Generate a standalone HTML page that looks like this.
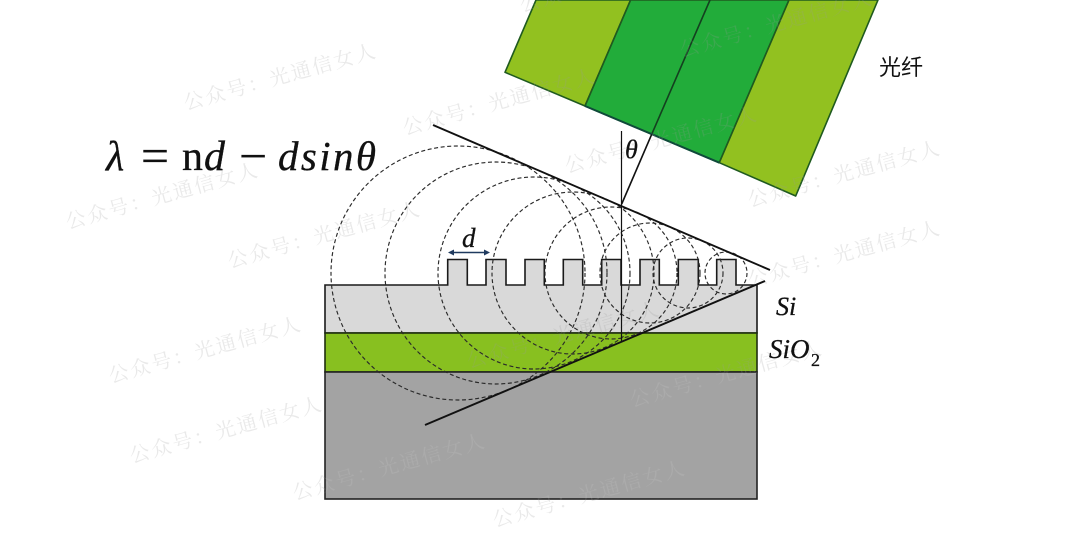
<!DOCTYPE html>
<html>
<head>
<meta charset="utf-8">
<style>
html,body{margin:0;padding:0;background:#fff;width:1080px;height:541px;overflow:hidden}
svg{display:block;filter:blur(.35px)}
.m{font-family:"Liberation Serif",serif;font-style:italic;fill:#111;stroke:#111;stroke-width:.3}
.r{font-family:"Liberation Serif",serif;fill:#111;stroke:#111;stroke-width:.3}
.wm{font-family:"Liberation Serif","Noto Serif CJK SC",serif;font-size:20px;letter-spacing:2.2px}
</style>
</head>
<body>
<svg width="1080" height="541" viewBox="0 0 1080 541" xmlns="http://www.w3.org/2000/svg">
  <defs>
    <clipPath id="gc"><rect x="326" y="373" width="430" height="125"/></clipPath>
  </defs>
  <rect width="1080" height="541" fill="#fff"/>

  <!-- fiber -->
  <g stroke="#1f5a1f" stroke-width="1.6" stroke-linejoin="round">
    <polygon points="536,0 630.6,0 585,106 505,72.3" fill="#92c120"/>
    <polygon points="630.6,0 789,0 719.3,162.7 585,106" fill="#22ac3a"/>
    <polygon points="789,0 878,0 795.7,196 719.3,162.7" fill="#92c120"/>
  </g>
  <line x1="710" y1="0" x2="651.7" y2="134.3" stroke="#14401f" stroke-width="1.6"/>
  <line x1="585" y1="106" x2="719.3" y2="162.7" stroke="#0f4a3a" stroke-width="2"/>

  <!-- substrate -->
  <path d="M325 285H447.7V259.5H467.3V285H486V259.5H506V285H525V259.5H544.3V285H563.3V259.5H582.7V285H601.7V259.5H621V285H640V259.5H659.3V285H678.3V259.5H698.3V285H716.7V259.5H736V285H757V333H325Z" fill="#d9d9d9" stroke="#1a1a1a" stroke-width="1.6"/>
  <rect x="325" y="333" width="432" height="39" fill="#88c020" stroke="#1f2f10" stroke-width="1.6"/>
  <rect x="325" y="372" width="432" height="127" fill="#a3a3a3" stroke="#222" stroke-width="1.6"/>

  <!-- watermarks -->
  <g class="wm" fill="#9a9a9a" fill-opacity=".22">
    <text transform="translate(186,110) rotate(-15.5)">公众号：光通信女人</text>
    <text transform="translate(405,135) rotate(-15.5)">公众号：光通信女人</text>
    <text transform="translate(567,173) rotate(-15.5)">公众号：光通信女人</text>
    <text transform="translate(750,207) rotate(-15.5)">公众号：光通信女人</text>
    <text transform="translate(68,229) rotate(-15.5)">公众号：光通信女人</text>
    <text transform="translate(230,268) rotate(-15.5)">公众号：光通信女人</text>
    <text transform="translate(750,287) rotate(-15.5)">公众号：光通信女人</text>
    <text transform="translate(111,383) rotate(-15.5)">公众号：光通信女人</text>
    <text transform="translate(469,368) rotate(-15.5)">公众号：光通信女人</text>
    <text id="w1" transform="translate(632,407) rotate(-15.5)">公众号：光通信女人</text>
    <text id="w2" transform="translate(132,463) rotate(-15.5)">公众号：光通信女人</text>
    <text id="w3" transform="translate(295,500) rotate(-15.5)">公众号：光通信女人</text>
    <text id="w4" transform="translate(495,527) rotate(-15.5)">公众号：光通信女人</text>
    <text transform="translate(682,57) rotate(-15.5)">公众号：光通信女人</text>
    <text transform="translate(522,12) rotate(-15.5)">公众号：光通信女人</text>
  </g>
  <!-- watermark lightens the dark grey block -->
  <rect x="326" y="373" width="430" height="125" fill="#a3a3a3"/>
  <g clip-path="url(#gc)" class="wm" fill="#ffffff" fill-opacity=".09">
    <use href="#w1"/><use href="#w2"/><use href="#w3"/><use href="#w4"/>
  </g>

  <!-- wavelets -->
  <g fill="none" stroke="#2a2a2a" stroke-width="1.15" stroke-dasharray="4 2.6">
    <circle cx="726" cy="273" r="21"/>
    <circle cx="688" cy="273" r="35"/>
    <circle cx="650" cy="273" r="50"/>
    <circle cx="611" cy="273" r="66"/>
    <circle cx="573" cy="273" r="81"/>
    <circle cx="534" cy="273" r="96"/>
    <circle cx="496" cy="273" r="111"/>
    <circle cx="458" cy="273" r="127"/>
  </g>

  <!-- lines -->
  <g stroke="#111" fill="none">
    <line x1="433" y1="125" x2="770" y2="270" stroke-width="1.9"/>
    <line x1="425" y1="425" x2="765" y2="281" stroke-width="1.9"/>
    <line x1="621.5" y1="131" x2="621.5" y2="341" stroke-width="1.2"/>
    <line x1="651.7" y1="134.3" x2="621.7" y2="204" stroke-width="1.6"/>
  </g>

  <!-- d arrow -->
  <line x1="451" y1="252.5" x2="487" y2="252.5" stroke="#1f3a5f" stroke-width="1.5"/>
  <polygon points="448,252.5 454,249.5 454,255.5" fill="#1f3a5f"/>
  <polygon points="490,252.5 484,249.5 484,255.5" fill="#1f3a5f"/>

  <!-- labels -->
  <text class="m" x="462" y="247" font-size="27">d</text>
  <text class="m" x="625" y="158" font-size="26">θ</text>
  <text class="m" x="776" y="315" font-size="26">Si</text>
  <text class="m" x="769" y="358" font-size="27">SiO</text>
  <text class="m" x="811" y="366" font-size="18" style="font-style:normal">2</text>
  <text x="879" y="75" font-size="22" font-family="'Liberation Sans','Noto Sans CJK SC',sans-serif" fill="#111">光纤</text>

  <!-- formula -->
  <text class="m" x="106" y="170" font-size="42">λ</text>
  <text class="r" x="141" y="172" font-size="48" textLength="28" lengthAdjust="spacingAndGlyphs">=</text>
  <text class="r" x="182" y="170" font-size="42">n</text>
  <text class="m" x="204" y="170" font-size="42">d</text>
  <text class="r" x="239" y="172" font-size="48" textLength="28" lengthAdjust="spacingAndGlyphs">−</text>
  <text class="m" x="278" y="170" font-size="41" textLength="98">dsinθ</text>
</svg>
</body>
</html>
